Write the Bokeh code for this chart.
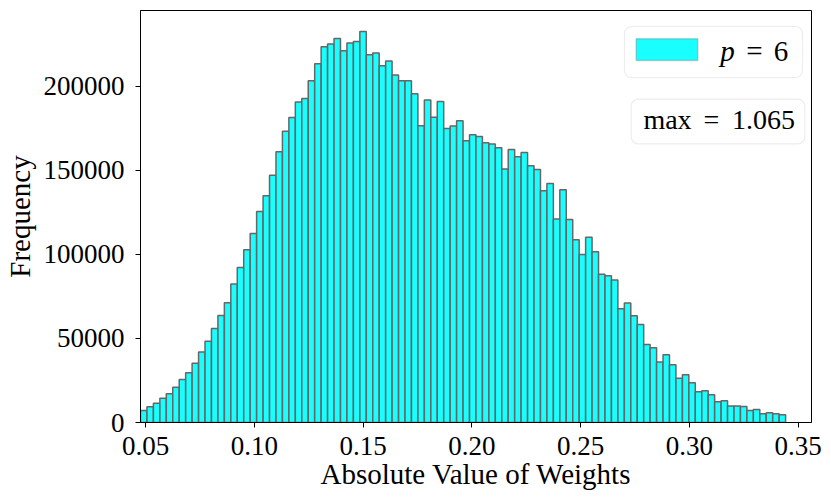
import numpy as np
from bokeh.plotting import figure
from bokeh.models import Range1d, FixedTicker, BoxAnnotation, Label
from bokeh.embed import file_html
from bokeh.resources import INLINE

# ---- data ----
counts = [7100, 9300, 11500, 14500, 17100, 21000, 25600, 29600, 35300, 41900,
          48400, 56000, 63700, 71300, 82400, 92200, 102800, 112500, 125600, 134900,
          147200, 161100, 173400, 181500, 190700, 192900, 203400, 213500, 223600, 225200,
          228600, 221300, 225800, 226800, 232700, 218900, 219900, 212300, 215100, 206800,
          203400, 203400, 195700, 176600, 192000, 181600, 191100, 175000, 176400, 179600,
          167700, 171200, 170200, 166500, 165700, 163500, 150800, 162500, 158200, 160700,
          152800, 150600, 137900, 142300, 121100, 138500, 120800, 108800, 100000, 110300,
          101600, 88300, 87300, 84800, 67700, 71100, 63500, 58300, 46400, 44500,
          36000, 40300, 34300, 26400, 28400, 23600, 18300, 18900, 16500, 12300,
          12900, 9800, 9800, 9500, 7100, 7700, 5200, 5800, 5200, 4600]
bin_lo = 0.0477
bin_hi = 0.3442
x_ticks = [0.05, 0.10, 0.15, 0.20, 0.25, 0.30, 0.35]
x_tick_labels = ["0.05", "0.10", "0.15", "0.20", "0.25", "0.30", "0.35"]
y_ticks = [0, 50000, 100000, 150000, 200000]
y_tick_labels = ["0", "50000", "100000", "150000", "200000"]
legend_parts = ["p", "=", "6"]
max_parts = ["max", "=", "1.065"]
x_title = "Absolute Value of Weights"
y_title = "Frequency"

# ---- layout ----
X0, X1 = 0.0477, 0.3561
Y0, Y1 = 0, 245200
FW, FH = 671, 412
FL, FT = 137, 10  # frame left/top in page pixels

def sx(px):
    return X0 + (px - FL) / FW * (X1 - X0)

def sy(py):
    return Y1 - (py - FT) / FH * (Y1 - Y0)

FONT = "Liberation Serif"

p = figure(frame_width=FW, frame_height=FH, output_backend="svg", toolbar_location=None,
           x_range=Range1d(X0, X1), y_range=Range1d(Y0, Y1),
           min_border_left=FL, min_border_top=FT, min_border_right=15, min_border_bottom=70)
p.grid.visible = False
p.outline_line_color = "black"
p.outline_line_width = 1
p.background_fill_color = "white"
p.border_fill_color = "white"

edges = np.linspace(bin_lo, bin_hi, len(counts) + 1)
p.quad(left=edges[:-1], right=edges[1:], bottom=0, top=counts,
       fill_color="cyan", fill_alpha=0.9, line_color="#666666", line_width=1.5)

for ax in (p.xaxis, p.yaxis):
    ax.axis_line_color = "black"
    ax.major_tick_line_color = "black"
    ax.major_tick_out = 5
    ax.major_tick_in = 0
    ax.minor_tick_line_color = None
    ax.major_label_text_font = FONT
    ax.major_label_text_font_size = "27px"
    ax.major_label_text_color = "black"
    ax.axis_label_text_font = FONT
    ax.axis_label_text_font_size = "29px"
    ax.axis_label_text_font_style = "normal"
    ax.axis_label_text_color = "black"

p.xaxis.ticker = FixedTicker(ticks=x_ticks)
p.xaxis.major_label_overrides = dict(zip(x_ticks, x_tick_labels))
p.yaxis.ticker = FixedTicker(ticks=y_ticks)
p.yaxis.major_label_overrides = dict(zip(y_ticks, y_tick_labels))
p.xaxis.major_label_standoff = 9
p.yaxis.major_label_standoff = 11
p.xaxis.axis_label = x_title
p.yaxis.axis_label = y_title
p.xaxis.axis_label_standoff = 0
p.yaxis.axis_label_standoff = 5

# ---- legend box ----
p.add_layout(BoxAnnotation(left=sx(621), right=sx(799), top=sy(26), bottom=sy(77),
                           fill_color="white", fill_alpha=0.85, line_color="#c4c4c4",
                           line_width=1.2, border_radius=7))
p.add_layout(BoxAnnotation(left=sx(632.7), right=sx(694.3), top=sy(38.3), bottom=sy(60),
                           fill_color="cyan", fill_alpha=0.9, line_color="#666666",
                           line_width=1.5))
for txt, cx, style in zip(legend_parts, [724, 751, 777.5], ["italic", "normal", "normal"]):
    p.add_layout(Label(x=sx(cx), y=sy(50.5), text=txt, text_align="center",
                       text_baseline="alphabetic", text_font=FONT, text_font_style=style,
                       text_font_size="29px", text_color="black"))

# ---- max box ----
p.add_layout(BoxAnnotation(left=sx(627.7), right=sx(801.3), top=sy(98.7), bottom=sy(143.3),
                           fill_color="white", fill_alpha=0.85, line_color="#c4c4c4",
                           line_width=1.2, border_radius=7))
for txt, cx in zip(max_parts, [664, 708, 760]):
    p.add_layout(Label(x=sx(cx), y=sy(119.3), text=txt, text_align="center",
                       text_baseline="alphabetic", text_font=FONT,
                       text_font_size="28px", text_color="black"))

open("out.html", "w").write(file_html(p, INLINE))
